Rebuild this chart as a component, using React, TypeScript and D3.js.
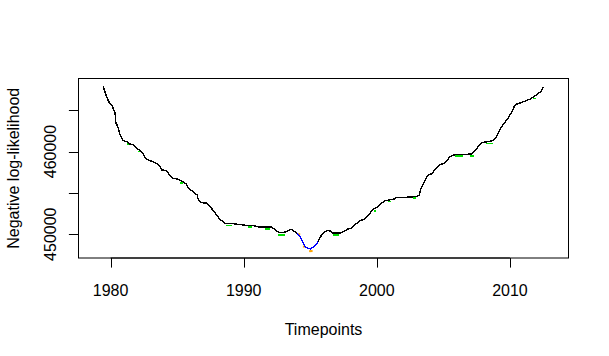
import React from 'react';
import * as d3 from 'd3';

// negative log-likelihood against timepoint
const timepoints = [
  1979.44, 1979.59, 1979.74, 1979.92, 1980.09, 1980.24, 1980.34, 1980.39, 1980.54, 1980.67,
  1980.79, 1980.94, 1981.24, 1981.42, 1981.75, 1981.92, 1982.18, 1982.42, 1982.63, 1982.93,
  1983.17, 1983.42, 1983.68, 1983.85, 1984.17, 1984.43, 1984.68, 1985.05, 1985.43, 1985.68,
  1985.86, 1986.18, 1986.5, 1986.58, 1986.78, 1987.21, 1987.46, 1987.7, 1987.96, 1988.21,
  1988.58, 1989.34, 1990.09, 1990.84, 1991.21, 1992.09, 1992.34, 1992.64, 1992.89, 1993.22,
  1993.54, 1993.79, 1994.02, 1994.22, 1994.42, 1994.59, 1994.84, 1995.02, 1995.27, 1995.42,
  1995.59, 1995.85, 1996.1, 1996.34, 1996.6, 1996.72, 1997.22, 1997.47, 1997.85, 1998.1,
  1998.35, 1998.73, 1999.1, 1999.35, 1999.61, 1999.85, 2000.1, 2000.36, 2000.6, 2000.93,
  2001.36, 2001.48, 2002.36, 2002.99, 2003.18, 2003.31, 2003.48, 2003.66, 2003.86, 2004.11,
  2004.36, 2004.56, 2004.74, 2005.11, 2005.29, 2005.49, 2005.74, 2005.99, 2006.62, 2007.16,
  2007.37, 2007.62, 2007.87, 2008.25, 2008.74, 2008.92, 2009.12, 2009.32, 2009.57, 2009.82,
  2010.0, 2010.17, 2010.32, 2010.5, 2010.88, 2011.25, 2011.5, 2011.82, 2012.12, 2012.38,
  2012.5,
];
const nll = [
  467870, 467144, 466466, 465860, 465654, 465049, 464649, 463511, 463027, 462228,
  461816, 461332, 461175, 460933, 460775, 460412, 460206, 459807, 459153, 458911,
  458790, 458596, 458269, 457785, 457700, 457179, 456780, 456659, 456368, 456090,
  455569, 455158, 454758, 454237, 453826, 453753, 453426, 452857, 452337, 451816,
  451332, 451247, 451090, 451005, 450847, 450847, 450605, 450194, 450194, 450315,
  450605, 450363, 450121, 449709, 449104, 448499, 448305, 448220, 448499, 448705,
  449104, 449915, 450315, 450484, 450315, 450121, 450121, 450315, 450642, 450726,
  451126, 451610, 451852, 452252, 452821, 453148, 453342, 453753, 454032, 454153,
  454274, 454431, 454480, 454552, 454722, 455448, 456090, 456659, 457179, 457301,
  457785, 458184, 458427, 458596, 458911, 459395, 459565, 459637, 459637, 459722,
  460085, 460606, 461090, 461175, 461332, 461623, 462228, 462833, 463439, 463923,
  464444, 464843, 465449, 465739, 465933, 466175, 466344, 466659, 466986, 467386,
  467797,
];

// stretch around the minimum that is drawn in blue
const minimumWindow = [1994.02, 1995.59];

// short green pieces peeking out under the black line: [from, to, value]
const greenPieces = [
  [1980.6, 1980.7, 462150],
  [1981.2, 1981.45, 461050],
  [1982.05, 1982.2, 460150],
  [1985.2, 1985.45, 456300],
  [1988.7, 1989.1, 451180],
  [1990.35, 1990.6, 451000],
  [1991.6, 1992.0, 450760],
  [1992.6, 1993.1, 450020],
  [1996.72, 1997.15, 450020],
  [1999.8, 1999.95, 452950],
  [2000.85, 2001.1, 454050],
  [2002.7, 2002.95, 454480],
  [2005.85, 2006.45, 459560],
  [2007.0, 2007.3, 459600],
  [2008.2, 2008.7, 461080],
  [2011.7, 2011.95, 466560],
];

// small orange marks at the bottom of the dip: [year, value]
const orangeMarks = [
  [1994.17, 450000],
  [1994.52, 448499],
  [1994.99, 447950],
  [1995.1, 447960],
];

const xLimits = [1977.59, 2014.4];
const yLimits = [447119, 468838];
const xTicks = [1980, 1990, 2000, 2010];
const yTicks = [450000, 455000, 460000, 465000];
const yTickLabels = [450000, 460000];

const W = 609;
const H = 356;
const left = 78.5;
const right = 568.5;
const top = 78.5;
const bottom = 258;
const font = 'Arial, "Liberation Sans", sans-serif';

export default function App() {
  const x = d3.scaleLinear(xLimits, [left, right]);
  const y = d3.scaleLinear(yLimits, [bottom, top]);

  const pts = timepoints.map((t, i) => [t, nll[i]] as [number, number]);
  const before = pts.filter(d => d[0] <= minimumWindow[0]);
  const dip = pts.filter(d => d[0] >= minimumWindow[0] && d[0] <= minimumWindow[1]);
  const after = pts.filter(d => d[0] >= minimumWindow[1]);

  const line = d3.line<[number, number]>()
    .x(d => x(d[0]))
    .y(d => y(d[1]));

  const midX = (left + right) / 2;
  const midY = (top + bottom) / 2;

  return (
    <svg width={W} height={H} style={{ position: 'absolute', left: 0, top: 0, background: '#fff' }}
      fontFamily={font} fontSize={16}>
      {greenPieces.map((g, i) => (
        <line key={'g' + i} x1={x(g[0])} x2={x(g[1])} y1={y(g[2]) + 1} y2={y(g[2]) + 1}
          stroke="#00dd00" strokeWidth={1.4} shapeRendering="crispEdges" />
      ))}
      {orangeMarks.map((o, i) => (
        <rect key={'o' + i} x={x(o[0]) - 1} y={y(o[1]) - 1} width={2} height={2} fill="#ffa500" />
      ))}
      <g fill="none" strokeWidth={1.4} shapeRendering="crispEdges">
        <path d={line(before) ?? ''} stroke="#000" />
        <path d={line(after) ?? ''} stroke="#000" />
        <path d={line(dip) ?? ''} stroke="#0000ff" />
      </g>

      <rect x={left} y={top} width={right - left} height={bottom - top} fill="none" stroke="#000" strokeWidth={1} />

      {/* x axis */}
      <line x1={x(xTicks[0])} x2={x(xTicks[xTicks.length - 1])} y1={bottom} y2={bottom} stroke="#000" />
      {xTicks.map(t => (
        <g key={'xt' + t}>
          <line x1={Math.round(x(t)) + 0.5} x2={Math.round(x(t)) + 0.5} y1={bottom} y2={bottom + 9.6} stroke="#000" />
          <text x={x(t)} y={296} textAnchor="middle" fill="#000">{t}</text>
        </g>
      ))}
      <text x={midX} y={335} textAnchor="middle" fill="#000">Timepoints</text>

      {/* y axis */}
      <line x1={left} x2={left} y1={y(yTicks[0])} y2={y(yTicks[yTicks.length - 1])} stroke="#000" />
      {yTicks.map(t => (
        <line key={'yt' + t} x1={left - 9.6} x2={left} y1={Math.round(y(t)) + 0.5} y2={Math.round(y(t)) + 0.5} stroke="#000" />
      ))}
      {yTickLabels.map(t => (
        <text key={'yl' + t} transform={`translate(56,${y(t)}) rotate(-90)`} textAnchor="middle" fill="#000">{t}</text>
      ))}
      <text transform={`translate(19,${midY}) rotate(-90)`} textAnchor="middle" fill="#000">Negative log-likelihood</text>
    </svg>
  );
}
